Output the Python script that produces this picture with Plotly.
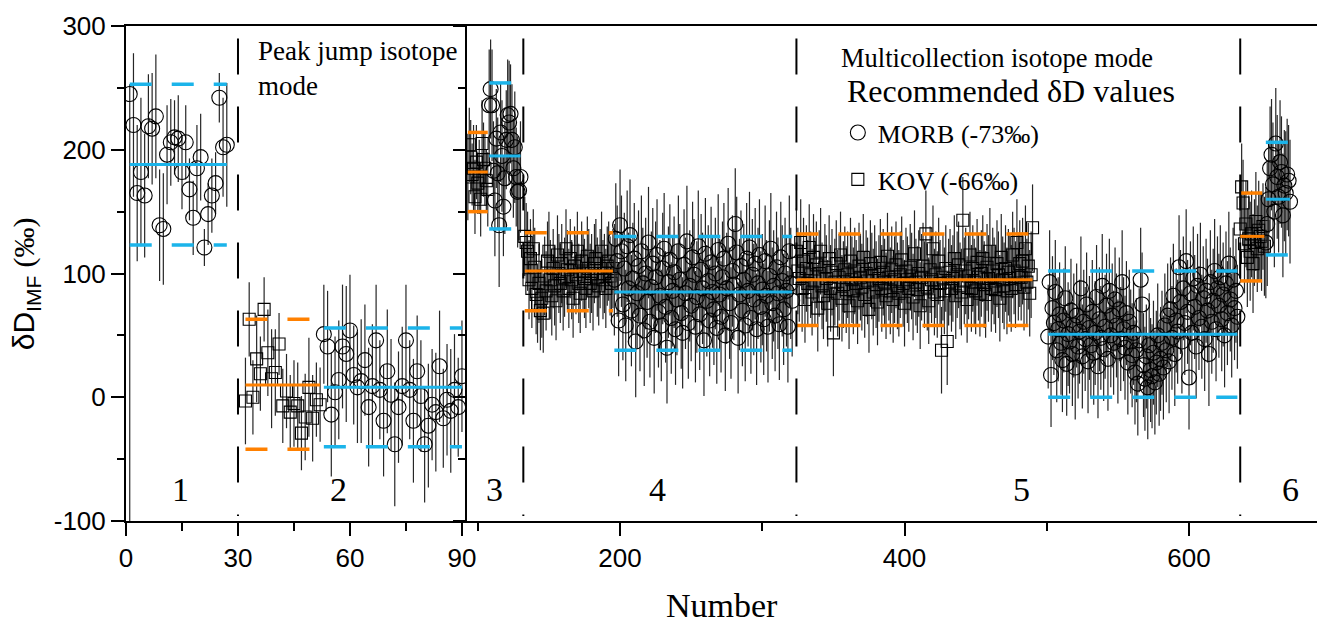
import plotly.graph_objects as go

BLUE = "#1BB4EA"
ORANGE = "#FF8000"
SERIF = "Liberation Serif"
SANS = "Liberation Sans"

# ---------------- data ----------------
# sample number at which each group starts
start_r1_morb, start_r2_kov, start_r2_morb = 1, 32, 53
start_r3_kov, start_r3_morb = 93, 108
start_r4_kov, start_r4_morb = 133, 196
start_r5_kov, start_r5_morb = 324, 501
start_r6_kov, start_r6_morb = 636, 654

r1_morb = [245, 220, 165, 182, 163, 219, 217, 227, 139, 136, 196, 206, 210, 209,
           182, 206, 168, 145, 185, 194, 121, 148, 163, 173, 242, 202, 204]
r1_morb_err = [8, 58, 55, 60, 50, 42, 45, 50, 45, 45, 40, 35, 30, 35,
               30, 30, 25, 30, 35, 35, 15, 25, 30, 25, 20, 40, 50]
r1_morb_errminus = [360, 58, 55, 60, 50, 42, 45, 50, 45, 45, 40, 35, 30, 35,
                    30, 30, 25, 30, 35, 35, 15, 25, 30, 25, 20, 40, 50]

r2_kov = [-3, 63, 0, 31, 19, 71, 36, 15, 20, 43, -7, 5, -12, -5, -7, -29, -16, 8, -17, -2, -6]
r2_kov_err = [35, 30, 30, 35, 30, 26, 35, 40, 35, 25, 30, 30, 30, 35, 35, 30, 35, 40, 35, 30, 30]

r2_morb = [51, 41, -14, 4, 14, 41, 35, 54, 18, 8, 13, 30, -8, 9, 46, 6, -19, 21, 2, -38,
           -8, 9, 46, 6, -19, 21, 1, -38, -23, -6, -12, 25, -17, -2, -11, 6, -8, 17]
r2_morb_err = [40, 45, 50, 45, 48, 50, 55, 45, 40, 45, 50, 45, 48, 50, 45, 40, 45, 50, 45, 50,
               45, 48, 45, 40, 50, 45, 45, 47, 50, 45, 48, 45, 40, 45, 50, 45, 40, 45]

r3_kov = [178, 204, 194, 180, 185, 162, 190, 173, 178, 160, 205, 192, 185, 175, 168]
r3_kov_err = [35, 30, 30, 25, 35, 30, 30, 25, 30, 30, 35, 30, 30, 25, 30]

r3_morb = [236, 249, 236, 183, 159, 209, 181, 139, 214, 195, 154, 177, 208, 228, 222, 229,
           208, 185, 202, 178, 166, 167, 178]
r3_morb_err = [45, 40, 45, 40, 45, 40, 45, 50, 40, 45, 40, 45, 40, 45, 50, 40,
               45, 40, 45, 40, 45, 40, 45]

r4_kov = [130, 125, 118, 95, 112, 88, 120, 105, 83, 76,
          92, 70, 80, 68, 98, 86, 110, 118, 95, 82,
          104, 90, 78, 115, 100, 92, 108, 86, 97, 120,
          103, 88, 112, 95, 80, 106, 99, 118, 92, 84,
          110, 102, 96, 88, 114, 104, 92, 100, 86, 108,
          112, 97, 90, 104, 118, 95, 100, 88, 106, 110,
          98, 92, 104]
r4_kov_err = 32

r4_morb = [95, 128, 110, 62, 139, 118, 75, 104, 58, 122,
           88, 131, 70, 96, 112, 45, 84, 106, 66, 118,
           92, 54, 100, 77, 125, 61, 89, 108, 48, 97,
           115, 69, 82, 58, 104, 120, 73, 40, 93, 111,
           64, 86, 101, 55, 79, 118, 95, 68, 52, 107,
           84, 126, 60, 90, 74, 113, 99, 57, 81, 122,
           67, 103, 88, 46, 116, 78, 94, 62, 109, 85,
           71, 100, 56, 119, 83, 65, 97, 112, 50, 88,
           124, 76, 60, 102, 91, 140, 117, 48, 83, 106,
           70, 95, 58, 112, 86, 121, 64, 99, 79, 108,
           55, 92, 115, 73, 87, 63, 110, 82, 57, 98,
           120, 76, 90, 66, 105, 84, 59, 113, 94, 71,
           100, 86, 57, 118, 92, 78]
r4_morb_err = 45

r5_kov = [118, 102, 96, 125, 88, 110, 79, 104, 92, 121,
          99, 85, 113, 94, 107, 72, 100, 118, 90, 82,
          105, 96, 76, 112, 88, 101, 52, 93, 108, 84,
          97, 115, 80, 91, 103, 87, 99, 74, 110, 95,
          86, 102, 92, 78, 106, 97, 89, 113, 83, 100,
          94, 71, 108, 98, 85, 104, 91, 77, 96, 109,
          88, 101, 93, 82, 114, 97, 86, 103, 79, 95,
          107, 90, 84, 99, 111, 92, 76, 102, 95, 88,
          105, 98, 81, 116, 93, 87, 100, 74, 97, 106,
          91, 132, 89, 78, 103, 95, 120, 85, 99, 83,
          110, 92, 38, 97, 86, 104, 45, 93, 101, 88,
          96, 112, 82, 99, 107, 90, 85, 143, 94, 102,
          79, 98, 115, 88, 104, 93, 86, 109, 97, 84,
          100, 112, 91, 83, 105, 96, 118, 88, 102, 94,
          87, 108, 99, 80, 113, 95, 90, 104, 86, 101,
          96, 88, 115, 102, 91, 125, 97, 108,
          97, 110, 89, 120, 93, 106, 84, 99, 137]
r5_kov_err = 35

r5_morb = [49, 93, 18, 72, 60, 85, 38, 55, 67, 44,
           30, 62, 80, 27, 51, 45, 70, 35, 58, 24,
           66, 41, 53, 88, 33, 61, 47, 75, 29, 56,
           42, 69, 36, 52, 81, 25, 63, 48, 90, 39,
           57, 74, 31, 86, 50, 66, 44, 79, 58, 37,
           71, 47, 93, 55, 40, 68, 28, 61, 45, 34,
           52, 20, 38, 11, 46, 95, 75, 26, 15, 33,
           8, 42, 22, 17, 36, 12, 28, 50, 19, 31,
           44, 24, 58, 38, 66, 29, 71, 48, 82, 35,
           62, 53, 105, 77, 45, 88, 60, 110, 69, 16,
           84, 52, 96, 73, 41, 90, 64, 99, 57, 80,
           47, 86, 70, 35, 93, 61, 78, 102, 55, 88,
           74, 97, 63, 83, 50, 92, 68, 108, 79, 58,
           95, 72, 86, 65]
r5_morb_err = 42

r6_kov = [136, 170, 157, 124, 140, 113, 128, 118, 132, 108, 125, 142, 120, 135, 130, 126, 138, 122]
r6_kov_err = [40, 35, 35, 40, 35, 40, 35, 40, 35, 40, 35, 40, 35, 40, 35, 40, 35, 40]

r6_morb = [125, 140, 160, 185, 196, 172, 150, 205, 178, 162, 190, 182, 147, 171, 165, 180, 175, 158]
r6_morb_err = [45, 50, 45, 50, 45, 50, 45, 45, 50, 45, 50, 45, 50, 45, 50, 45, 45, 50]

# recommended mean and +-2SD levels of each group: (mean, upper, lower)
lvl_r1_morb = (188, 253, 123)
lvl_r2_kov = (10, 63, -42)
lvl_r2_morb = (8, 56, -40)
lvl_r3_kov = (182, 214, 150)
lvl_r3_morb = (195, 254, 136)
lvl_r4_kov = (102, 133, 70)
lvl_r4_morb = (85, 130, 38)
lvl_r5_kov = (95, 132, 58)
lvl_r5_morb = (51, 102, 0)
lvl_r6_kov = (130, 165, 94)
lvl_r6_morb = (160, 206, 115)

# session boundaries (dashed verticals)
left_boundaries = [30]
right_boundaries = [132, 324, 636]

# session labels
session_labels = ["1", "2", "3", "4", "5", "6"]
session_label_x = [14.5, 56.8, 112, 226, 482, 671]
session_label_panel = ["x", "x", "x2", "x2", "x2", "x2"]

y_ticks = [-100, 0, 100, 200, 300]
y_ticktext = ["-100", "0", "100", "200", "300"]
y_minor = [-50, 50, 150, 250]
xl_ticks = [0, 30, 60, 90]
xl_minor = [15, 45, 75]
xr_ticks = [200, 400, 600]
xr_minor = [100, 300, 500]

legend_morb = "MORB (-73‰)"
legend_kov = "KOV (-66‰)"

groups = [
    # panel, kind, start, values, err(+), err(-), levels
    ("1", "morb", start_r1_morb, r1_morb, r1_morb_err, r1_morb_errminus, lvl_r1_morb),
    ("1", "kov", start_r2_kov, r2_kov, r2_kov_err, None, lvl_r2_kov),
    ("1", "morb", start_r2_morb, r2_morb, r2_morb_err, None, lvl_r2_morb),
    ("2", "kov", start_r3_kov, r3_kov, r3_kov_err, None, lvl_r3_kov),
    ("2", "morb", start_r3_morb, r3_morb, r3_morb_err, None, lvl_r3_morb),
    ("2", "kov", start_r4_kov, r4_kov, r4_kov_err, None, lvl_r4_kov),
    ("2", "morb", start_r4_morb, r4_morb, r4_morb_err, None, lvl_r4_morb),
    ("2", "kov", start_r5_kov, r5_kov, r5_kov_err, None, lvl_r5_kov),
    ("2", "morb", start_r5_morb, r5_morb, r5_morb_err, None, lvl_r5_morb),
    ("2", "kov", start_r6_kov, r6_kov, r6_kov_err, None, lvl_r6_kov),
    ("2", "morb", start_r6_morb, r6_morb, r6_morb_err, None, lvl_r6_morb),
]

fig = go.Figure()

ERRCOL = "#262626"

# points with error bars
for panel, kind, start, vals, err, errm, lvl in groups:
    xs = list(range(start, start + len(vals)))
    xa, ya = ("x", "y") if panel == "1" else ("x2", "y2")
    if isinstance(err, list):
        ey = dict(type="data", array=err, arrayminus=errm if errm else err,
                  color=ERRCOL, thickness=1.2, width=0, visible=True)
    else:
        ey = dict(type="constant", value=err, color=ERRCOL, thickness=1.2, width=0, visible=True)
    if kind == "morb":
        mk = dict(symbol="circle-open", size=15, color="black", line=dict(width=1.1))
    else:
        mk = dict(symbol="square-open", size=12, color="black", line=dict(width=1.1))
    fig.add_trace(go.Scatter(x=xs, y=vals, mode="markers", marker=mk, error_y=ey,
                             xaxis=xa, yaxis=ya, showlegend=False, hoverinfo="skip"))

# mean and +-2SD lines
for panel, kind, start, vals, err, errm, lvl in groups:
    x0, x1 = start, start + len(vals) - 1
    xa, ya = ("x", "y") if panel == "1" else ("x2", "y2")
    col = BLUE if kind == "morb" else ORANGE
    mean, hi, lo = lvl
    fig.add_trace(go.Scatter(x=[x0, x1], y=[mean, mean], mode="lines",
                             line=dict(color=col, width=3), xaxis=xa, yaxis=ya,
                             showlegend=False, hoverinfo="skip"))
    for v in (hi, lo):
        fig.add_trace(go.Scatter(x=[x0, x1], y=[v, v], mode="lines",
                                 line=dict(color=col, width=3.5, dash="22px,20px"),
                                 xaxis=xa, yaxis=ya, showlegend=False, hoverinfo="skip"))

# legend entries
fig.add_trace(go.Scatter(x=[None], y=[None], mode="markers", name=legend_morb, legendgroup="a",
                         marker=dict(symbol="circle-open", size=15, color="black", line=dict(width=1.1)),
                         xaxis="x2", yaxis="y2"))
fig.add_trace(go.Scatter(x=[None], y=[None], mode="markers", name=legend_kov, legendgroup="b",
                         marker=dict(symbol="square-open", size=12, color="black", line=dict(width=1.1)),
                         xaxis="x2", yaxis="y2"))

# dashed session boundaries
shapes = []
for xb in left_boundaries:
    shapes.append(dict(type="line", xref="x", yref="y", x0=xb, x1=xb, y0=290, y1=-96,
                       line=dict(color="black", width=2, dash="36px,32px")))
for xb in right_boundaries:
    shapes.append(dict(type="line", xref="x2", yref="y2", x0=xb, x1=xb, y0=290, y1=-96,
                       line=dict(color="black", width=2, dash="36px,32px")))

annotations = []
for lab, lx, pn in zip(session_labels, session_label_x, session_label_panel):
    annotations.append(dict(text=lab, x=lx, xref=pn, y=-74.5, yref="y" if pn == "x" else "y2",
                            showarrow=False, font=dict(family=SERIF, size=34, color="black")))
annotations += [
    dict(text="Peak jump isotope<br>mode", x=0.1087, y=0.984, xref="paper", yref="paper",
         xanchor="left", yanchor="top", align="left", showarrow=False,
         font=dict(family=SERIF, size=27, color="black")),
    dict(text="Multicollection isotope mode", x=0.5943, y=0.970, xref="paper", yref="paper",
         xanchor="left", yanchor="top", align="left", showarrow=False,
         font=dict(family=SERIF, size=26.5, color="black")),
    dict(text="Recommended δD values", x=0.5995, y=0.909, xref="paper", yref="paper",
         xanchor="left", yanchor="top", align="left", showarrow=False,
         font=dict(family=SERIF, size=32, color="black")),
    dict(text="Number", x=0.4971, y=-0.170, xref="paper", yref="paper",
         xanchor="center", yanchor="middle", showarrow=False,
         font=dict(family=SERIF, size=34, color="black")),
    dict(text="δD<sub>IMF</sub> <span style=\"font-family:Liberation Serif\">(‰)</span>",
         x=-0.0835, y=0.48, xref="paper", yref="paper", textangle=-90,
         xanchor="center", yanchor="middle", showarrow=False,
         font=dict(family=SANS, size=30, color="black")),
]

axis_common = dict(showline=True, linecolor="black", linewidth=2, ticks="outside",
                   tickcolor="black", tickwidth=2, showgrid=False, zeroline=False, automargin=False,
                   tickfont=dict(family=SANS, size=26, color="black"))

DOM = 341 / 1199

# the page body adds an 8px offset, so the margins are shifted by 8px
fig.update_layout(
    width=1325, height=624,
    margin=dict(l=118, r=8, t=18, b=111, autoexpand=False),
    plot_bgcolor="white", paper_bgcolor="white",
    shapes=shapes, annotations=annotations,
    showlegend=True,
    legend=dict(x=0.5937, y=0.832, xanchor="left", yanchor="top", bgcolor="rgba(0,0,0,0)",
                font=dict(family=SERIF, size=26, color="black"),
                tracegroupgap=10, itemclick=False),
    xaxis=dict(domain=[0, DOM], range=[0, 91.35], anchor="y", mirror=True,
               tickmode="array", tickvals=xl_ticks, ticklen=13,
               minor=dict(tickmode="array", tickvals=xl_minor, ticks="outside", ticklen=8,
                          tickwidth=2, tickcolor="black"),
               **axis_common),
    xaxis2=dict(domain=[DOM, 1], range=[92.4, 695.6], anchor="y2", mirror=True,
                tickmode="array", tickvals=xr_ticks, ticklen=13,
                minor=dict(tickmode="array", tickvals=xr_minor, ticks="outside", ticklen=8,
                           tickwidth=2, tickcolor="black"),
                **axis_common),
    yaxis=dict(range=[-100, 300], anchor="x", mirror=False,
               tickmode="array", tickvals=y_ticks, ticktext=y_ticktext, ticklen=13,
               minor=dict(tickmode="array", tickvals=y_minor, ticks="outside", ticklen=7,
                          tickwidth=2, tickcolor="black"),
               **axis_common),
    yaxis2=dict(range=[-100, 300], anchor="x2", showticklabels=False,
                tickmode="array", tickvals=y_ticks, ticklen=12,
                minor=dict(tickmode="array", tickvals=y_minor, ticks="outside", ticklen=7,
                           tickwidth=2, tickcolor="black"),
                **axis_common),
)

fig.write_html("out.html")
